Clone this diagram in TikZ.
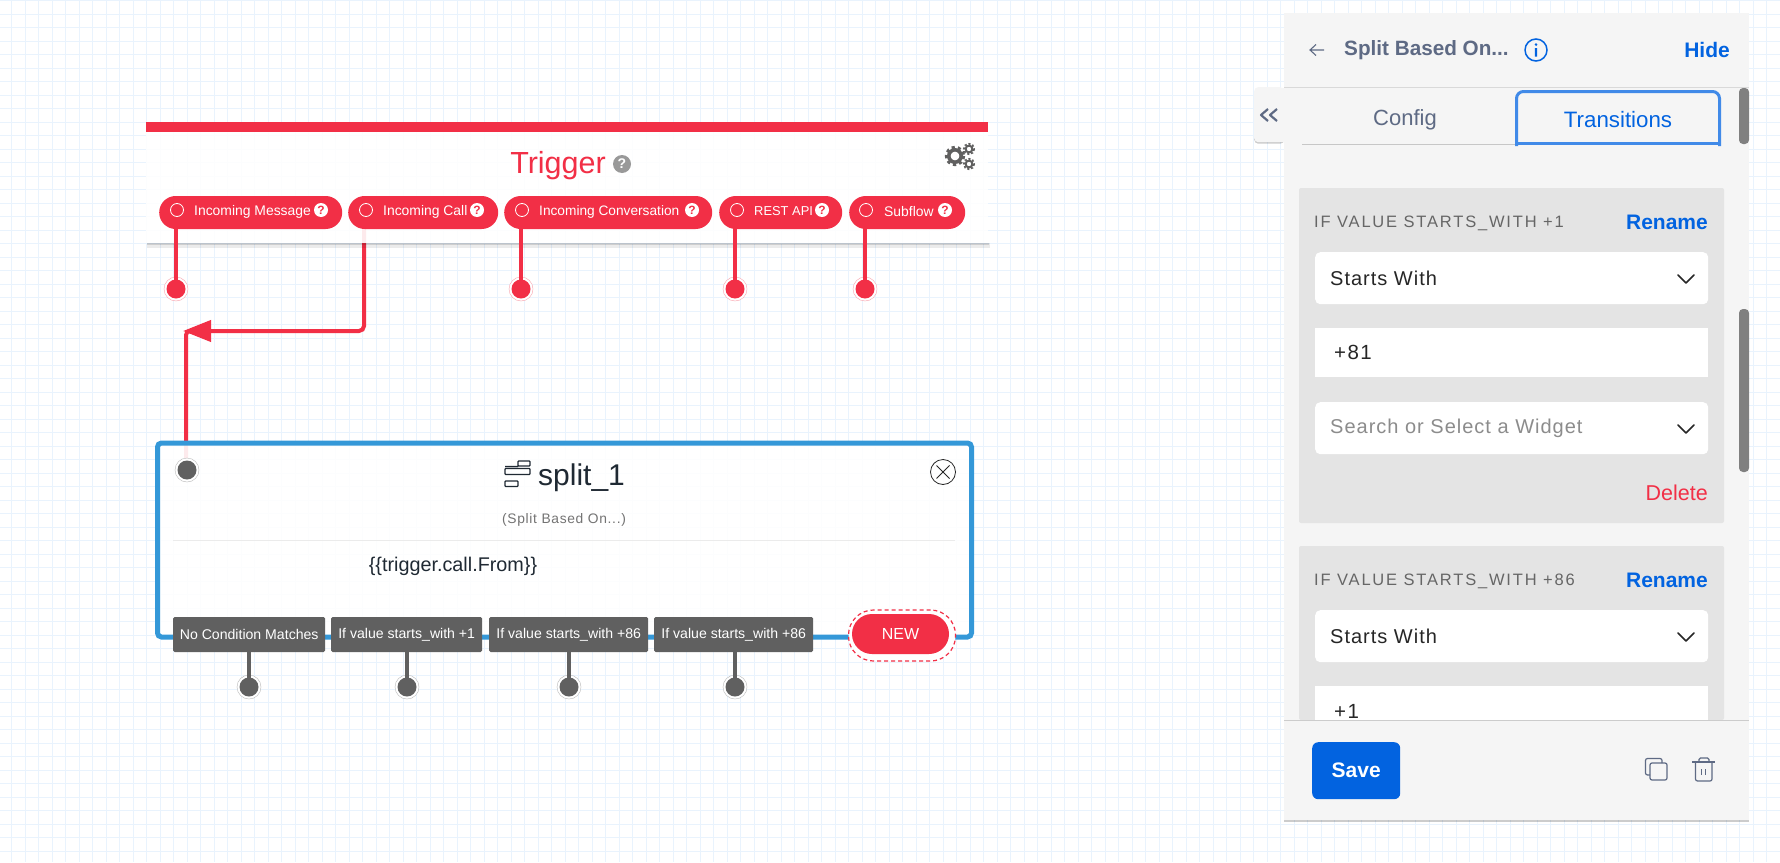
\documentclass[tikz,border=0pt]{standalone}
\usepackage{fontspec}
\setmainfont{Liberation Sans}
\usetikzlibrary{arrows.meta,shadows}
\definecolor{twred}{HTML}{F22F46}
\definecolor{twblue}{HTML}{0263E0}
\definecolor{splitblue}{HTML}{3498D8}
\definecolor{darkgray}{HTML}{606060}
\definecolor{slate}{HTML}{5E6A84}
\definecolor{inkdark}{HTML}{1F2933}
\definecolor{panelbg}{HTML}{F5F5F5}
\definecolor{cardbg}{HTML}{E4E4E4}
\definecolor{gridblue}{HTML}{E9F3FD}
\newcommand{\pxfont}[1]{\fontsize{#1}{#1}\selectfont}
\newcommand{\widefont}[2]{\addfontfeatures{LetterSpace=#1}\fontsize{#2}{#2}\selectfont}
\tikzset{
  label/.style={inner sep=0pt,anchor=#1},
  label/.default=center,
  pill/.style={anchor=west,fill=twred,rounded corners=16.5pt,minimum height=33pt,inner sep=0pt},
  btn/.style={anchor=west,fill=darkgray,rounded corners=1.5pt,minimum height=35pt,inner sep=0pt,text=white,font=\pxfont{14.1}},
  port/.style={circle,minimum size=24pt,inner sep=0pt,line width=.4pt,draw=#1!45,fill=white,
    path picture={\fill[#1] (path picture bounding box.center) circle (9.5pt);}},
  wire/.style={twred,line width=4pt},
  field/.style={anchor=north west,fill=white,inner sep=0pt,minimum width=393pt},
  chev/.style={line width=1.7pt,black!85,line cap=round,line join=round},
  icon/.style={slate,line width=1.2pt}
}
\begin{document}
\begin{tikzpicture}[x=1pt,y=-1pt]
\useasboundingbox (0,0) rectangle (1780,862);
\fill[white] (0,0) rectangle (1780,862);

% canvas grid
\foreach \x in {11.5,25,...,1780} \draw[gridblue,line width=1pt] (\x,0) -- (\x,862);
\foreach \y in {0.5,14,...,862} \draw[gridblue,line width=1pt] (0,\y) -- (1780,\y);

% incoming call wire runs under the cards
\coordinate (callout) at (364,225);
\coordinate (arrowtip) at (183,331);
\coordinate (callturn) at (186,331);
\coordinate (splitin) at (186,458);
\draw[wire,rounded corners=4pt] (splitin) -- (callturn) -- ++(6,0);
\draw[wire,rounded corners=5pt,-{Triangle[length=28pt,width=21pt]}] (callout) |- (arrowtip);

% trigger card
\fill[black,opacity=.08] (147,243) rectangle (990,247.5);
\fill[black,opacity=.12] (147,243) rectangle (989,245);
\node[anchor=north west,minimum width=842pt,minimum height=121pt,inner sep=0pt,outer sep=0pt,fill=white,fill opacity=.9] (trigger) at (146,122) {};
\fill[twred] (146,122) rectangle (988,132);
\node[label,text=twred,font=\pxfont{30.5}] (triggertitle) at (558,166) {Trigger};
\node[circle,fill=black!40,minimum size=18pt,inner sep=0pt,text=white,font=\bfseries\pxfont{14}] (triggerhelp) at (622,164) {?};
\draw[darkgray,line width=3.6pt] (955,156) circle (6.2);
\draw[darkgray,line width=2.8pt,dash pattern=on 3.2pt off 3.1pt] (955,156) circle (8.8);
\foreach \y in {149,164} {
  \draw[darkgray,line width=2pt] (969,\y) circle (3.4);
  \draw[darkgray,line width=1.8pt,dash pattern=on 2pt off 1.9pt] (969,\y) circle (5.2);
}

\foreach \nm/\lft/\wid/\circx/\textx/\helpx/\size/\txt in {
  msg/159/183/177/194/321/13.9/Incoming Message,
  call/348/150/366/383/477/13.9/Incoming Call,
  conv/504/208/522/539/692/13.7/Incoming Conversation,
  rest/719/123/737/754/822/12.9/REST API,
  sub/849/116/866/884/945/13.9/Subflow} {
  \node[pill,minimum width=\wid pt] (\nm) at (\lft,212.5) {};
  \draw[white,line width=.8pt] (\circx,210) circle (6.5);
  \node[label=west,text=white,font=\pxfont{\size}] (\nm text) at (\textx,211.5) {\txt};
  \node[circle,fill=white,minimum size=14pt,inner sep=0pt,text=twred,font=\bfseries\pxfont{12}] (\nm help) at (\helpx,210) {?};
}

% trigger ports
\foreach \nm/\portx in {msg/176,conv/521,rest/735,sub/865} {
  \node[port=twred] (\nm port) at (\portx,289) {};
  \draw[twred,line width=3.5pt] (\nm port|-\nm.south) -- ([yshift=-3pt]\nm port.north);
}

% split widget
\node[anchor=north west,minimum width=814pt,minimum height=194pt,inner sep=0pt,outer sep=0pt,rounded corners=4pt,
  fill=white,fill opacity=.9,draw=splitblue,draw opacity=1,line width=5pt] (split) at (157.5,443) {};
\node[port=darkgray] (splitport) at (187,470) {};
\draw[line width=1.3pt,inkdark,rounded corners=.8pt]
  (518,461) rectangle (530,466) (505,468.5) rectangle (530,474.5) (505,481) rectangle (518,486.5)
  (505,466.5) -- (518,466.5);
\node[label=west,text=inkdark,font=\pxfont{30}] (splitname) at (538,478) {split\_1};
\node[label,text=black!55,font=\widefont{5}{13.8}] (splittype) at (564,520) {(Split Based On...)};
\draw[black!8,line width=1pt] (173,540) -- (955,540);
\node[label,text=inkdark,font=\pxfont{19.8}] (splitvar) at (453,566) {\{\{trigger.call.From\}\}};
\node[circle,draw=black!85,line width=.8pt,minimum size=25pt,inner sep=0pt] (splitclose) at (943,472) {};
\draw[black!85,line width=.8pt] (936.5,465.5) -- (949.5,478.5) (936.5,478.5) -- (949.5,465.5);

\foreach \nm/\lft/\wid/\portx/\txt in {
  nomatch/173/152/249/No Condition Matches,
  plusone/331/151/407/If value starts\_with +1,
  eightsix/489/159/569/If value starts\_with +86,
  eightsixb/654/159/735/If value starts\_with +86} {
  \node[btn,minimum width=\wid pt] (\nm) at (\lft,634.5) {\txt};
  \node[port=darkgray] (\nm port) at (\portx,687) {};
  \draw[darkgray,line width=3.5pt] (\nm port|-\nm.south) -- ([yshift=-3pt]\nm port.north);
}
\node[anchor=center,minimum width=107pt,minimum height=51pt,inner sep=0pt,rounded corners=25pt,fill=white,
  draw=twred,dash pattern=on 4pt off 3pt,line width=1.2pt] (newring) at (902,635.5) {};
\node[minimum width=97pt,minimum height=40pt,inner sep=0pt,rounded corners=20pt,fill=twred,text=white,font=\pxfont{16}] (newbtn) at (900.5,634) {NEW};

% side panel
\node[anchor=north west,minimum width=30pt,minimum height=55pt,inner sep=0pt,rounded corners=4pt,fill=panelbg,
  drop shadow={shadow xshift=0pt,shadow yshift=-1.5pt,fill=black,opacity=.2}] (collapsetab) at (1254,87) {};
\node[anchor=north west,minimum width=465pt,minimum height=807pt,inner sep=0pt,fill=panelbg,
  drop shadow={shadow xshift=0pt,shadow yshift=-1.5pt,fill=black,opacity=.2}] (panel) at (1284,13) {};
\fill[panelbg] (1280,88) rectangle (1290,141.5);
\draw[slate,line width=2.2pt,line join=round] (1268,109) -- (1261,115) -- (1268,121) (1277,109) -- (1270,115) -- (1277,121);

\draw[black!15,line width=1pt] (1284,87) -- (1749,87);
\draw[slate,line width=1.1pt] (1324,50) -- (1310,50) (1316,44.5) -- (1310,50) -- (1316,55.5);
\node[label=west,text=slate,font=\bfseries\pxfont{20.7}] (paneltitle) at (1344,50) {Split Based On...};
\node[circle,draw=twblue,line width=1.5pt,minimum size=22pt,inner sep=0pt] (infoicon) at (1536,50) {};
\fill[twblue] (1534.9,48) rectangle (1537.1,56.5) (1536,44.6) circle (1.4);
\node[label=east,text=twblue,font=\bfseries\pxfont{21}] (hidelink) at (1730,50) {Hide};

\draw[black!22,line width=.8pt] (1302,144.5) -- (1516,144.5);
\node[label,text=slate,font=\pxfont{22}] (configtab) at (1405,119.5) {Config};
\draw[twblue!75,line width=3pt,rounded corners=7pt] (1516.5,146) -- (1516.5,91.5) -- (1719.5,91.5) -- (1719.5,146);
\draw[twblue!75,line width=3pt] (1515,143.7) -- (1721,143.7);
\node[label,text=twblue,font=\pxfont{22.3}] (transitionstab) at (1618,119.5) {Transitions};
\fill[black!50,rounded corners=4pt] (1739,88) rectangle (1749,144);

% first transition
\fill[cardbg,rounded corners=2pt] (1299,188) rectangle (1724,523);
\node[label=west,text=black!60,font=\widefont{11}{16.5}] (firstname) at (1314,223) {IF VALUE STARTS\_WITH +1};
\node[label=east,text=twblue,font=\bfseries\pxfont{21}] (firstrename) at (1708,222) {Rename};
\node[field,rounded corners=5pt,minimum height=52pt] (firstkind) at (1315,252) {};
\node[label=west,text=black!85,font=\widefont{5}{20}] (firstkindtext) at (1330,278) {Starts With};
\draw[chev] (1678,275) -- (1686,283) -- (1694,275);
\node[field,minimum height=49pt] (firstvalue) at (1315,328) {};
\node[label=west,text=black!85,font=\widefont{7}{20.5}] (firstvaluetext) at (1334,352) {+81};
\node[field,rounded corners=5pt,minimum height=52pt] (firstwidget) at (1315,402) {};
\node[label=west,text=black!45,font=\widefont{5}{20}] (firstwidgettext) at (1330,428) {Search or Select a Widget};
\draw[chev] (1678,425) -- (1686,433) -- (1694,425);
\node[label=east,text=twred,font=\pxfont{21.5}] (firstdelete) at (1708,493) {Delete};

% second transition
\fill[cardbg,rounded corners=2pt] (1299,546) rectangle (1724,720);
\node[label=west,text=black!60,font=\widefont{11}{16.5}] (secondname) at (1314,581) {IF VALUE STARTS\_WITH +86};
\node[label=east,text=twblue,font=\bfseries\pxfont{21}] (secondrename) at (1708,580) {Rename};
\node[field,rounded corners=5pt,minimum height=52pt] (secondkind) at (1315,610) {};
\node[label=west,text=black!85,font=\widefont{5}{20}] (secondkindtext) at (1330,636) {Starts With};
\draw[chev] (1678,633) -- (1686,641) -- (1694,633);
\node[field,minimum height=34pt] (secondvalue) at (1315,686) {};
\node[label=west,text=black!85,font=\widefont{7}{20.5}] (secondvaluetext) at (1334,711) {+1};
\fill[black!50,rounded corners=4pt] (1739,309) rectangle (1749,472);

% footer
\fill[panelbg] (1284,720) rectangle (1749,820);
\draw[black!20,line width=1pt] (1284,720) -- (1749,720);
\node[anchor=north west,minimum width=88pt,minimum height=57pt,inner sep=0pt,rounded corners=6pt,fill=twblue,
  text=white,font=\bfseries\pxfont{21}] (savebtn) at (1312,742) {Save};
\draw[icon,rounded corners=2pt] (1650,775) -- (1645.5,775) -- (1645.5,758.5) -- (1662,758.5) -- (1662,763);
\draw[icon,rounded corners=2pt] (1650,763) rectangle (1667,780);
\draw[icon] (1692,762) -- (1715,762);
\draw[icon,rounded corners=2pt] (1695.5,762) -- (1695.5,781) -- (1712,781) -- (1712,762);
\draw[icon,rounded corners=1.5pt] (1699,762) -- (1699,758) -- (1709,758) -- (1709,762);
\draw[icon,line width=.9pt] (1701.8,769) -- (1701.8,775) (1705.8,769) -- (1705.8,775);
\end{tikzpicture}
\end{document}
